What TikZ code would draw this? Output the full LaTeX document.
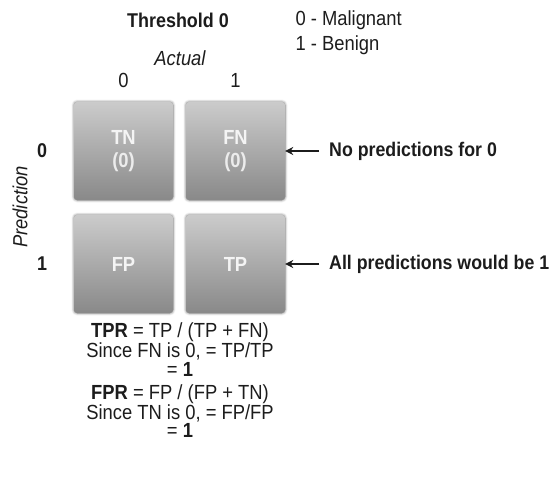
\documentclass[tikz,border=0pt]{standalone}
\usepackage{fontspec}
\setmainfont{Liberation Sans}[FakeStretch=0.9]
\usetikzlibrary{positioning,shadows.blur,arrows.meta}
\definecolor{cellTop}{HTML}{CBCBCB}
\definecolor{cellBot}{HTML}{898989}
\definecolor{cellText}{HTML}{F4F4F4}
\definecolor{inkGray}{HTML}{1C1C1C}

\begin{document}
\begin{tikzpicture}[
  x=1bp, y=-1bp,
  every node/.style={font=\fontsize{20.5}{19}\selectfont, text=inkGray},
  cell/.style={rounded corners=3bp, minimum width=99bp, minimum height=98bp,
    top color=cellTop, bottom color=cellBot, align=center,
    font=\fontsize{20.5}{23}\selectfont\bfseries, text=cellText,
    blur shadow={shadow xshift=0bp, shadow yshift=0bp, shadow blur radius=2.5bp, shadow opacity=60}},
  bold/.style={font=\fontsize{20}{19}\selectfont\bfseries},
  note/.style={font=\fontsize{19.8}{19}\selectfont\bfseries, anchor=west, inner sep=1bp},
  formula/.style={align=center, font=\fontsize{20.5}{18.7}\selectfont},
  arr/.style={-{Stealth[length=8bp,width=8bp]}, line width=1.6bp, draw=inkGray, shorten <=9bp}
]
\useasboundingbox (0,0) rectangle (556,479);

% Matrix cells
\node[cell] (tn) at (123.5,151) {TN\\{\color{white!85!gray}(0)}};
\node[cell] (fn) at (235.5,151) {FN\\{\color{white!85!gray}(0)}};
\node[cell] (fp) at (123.5,264) {FP};
\node[cell] (tp) at (235.5,264) {TP};

% Header
\node[bold] (thr) at (178,20) {Threshold 0};
\node[anchor=west] (mal) at (292,20) {0 - Malignant};
\node[anchor=west] (ben) at (292,45) {1 - Benign};
\node[font=\fontsize{20.5}{19}\selectfont\itshape] (act) at (180,58) {Actual};
\node (c0) at (123.5,80) {0};
\node (c1) at (235.5,80) {1};

% Row labels
\node[rotate=90, font=\fontsize{20.5}{19}\selectfont\itshape] (pred) at (20,207) {Prediction};
\node[bold] (r0) at (42,151) {0};
\node[bold] (r1) at (42,264) {1};

% Notes
\node[note] (note0) at (328,151) {No predictions for 0};
\node[note] (note1) at (328,264) {All predictions would be 1};
\draw[arr] (note0) -- (fn);
\draw[arr] (note1) -- (tp);

% Rates
\node[formula] (tpr) at (180,349.5) {\textbf{TPR} = TP / (TP + FN)\\Since FN is 0, = TP/TP\\= \textbf{1}};
\node[formula] (fpr) at (180,411) {\textbf{FPR} = FP / (FP + TN)\\Since TN is 0, = FP/FP\\= \textbf{1}};
\end{tikzpicture}
\end{document}
